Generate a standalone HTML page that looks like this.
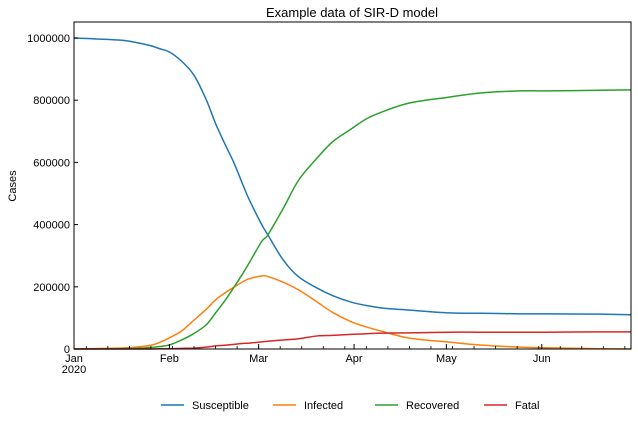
<!DOCTYPE html>
<html><head><meta charset="utf-8"><style>
body{margin:0;background:#fff;}
svg text{font-family:"Liberation Sans","DejaVu Sans",sans-serif;fill:#000;}
</style></head><body>
<svg id="chart" width="638" height="422">
<text x="352" y="17" font-size="13" text-anchor="middle">Example data of SIR-D model</text>
<text transform="translate(16,186) rotate(-90)" font-size="11" text-anchor="middle">Cases</text>
<g id="grid"></g><g id="series"></g>
<rect x="74" y="22" width="557" height="327" fill="none" stroke="#000" stroke-width="1"/>
<g id="axes"></g><g id="legend"></g>
</svg>
<script>
const days=[0,15,20,25,28,31,35,39,43,46,49,52,55,57,61,63,68,73,79,84,90,95,100,109,122,132,145,153,171,181];
const susceptible=[1000,993,986,975,965,955,925,880,801,725,660,598,525,479,400,367,286,232,196,172,151,140,132,125,116,115,113,113,112,110];
const infected=[0,3,6,12,22,36,58,93,128,158,180,199,217,226,235,233,215,190,151,118,88,71,57,35,22,13,6,4,1,0];
const recovered=[0,1,2,5,8,13,29,50,78,116,155,199,245,278,346,367,452,543,614,666,707,740,762,791,810,823,830,830,832,833];
const fatal=[0,0,0,0,1,1,2,3,6,10,12,15,18,19,23,25,29,33,42,44,47,49,51,52,54,54,54,54,55,55];
const yTicks=[0,200000,400000,600000,800000,1000000];
const monthLabels=["Jan","Feb","Mar","Apr","May","Jun"];
const monthDays=[0,31,60,91,121,152];
const seriesNames=["Susceptible","Infected","Recovered","Fatal"];
const colors=["#1f77b4","#ff7f0e","#2ca02c","#d62728"];
const NS="http://www.w3.org/2000/svg";
const X=d=>74+d*557/181;
const Y=v=>349-v*311/1000000;
function mk(t,a,p){const e=document.createElementNS(NS,t);for(const k in a)e.setAttribute(k,a[k]);p.appendChild(e);return e;}
const axes=document.getElementById('axes');
yTicks.forEach(v=>{
  const l=mk('line',{x1:74,x2:78,y1:Y(v),y2:Y(v),stroke:'#000'},axes);
  
  
  const t=mk('text',{x:70,y:Y(v)+4,'font-size':11,'text-anchor':'end'},axes);t.textContent=v;
  
  
});
for(let d=4;d<=181;d+=7){
  const l=mk('line',{x1:X(d),x2:X(d),y1:349,y2:346,stroke:'#000','stroke-width':0.8},axes);
  
  
}
monthDays.forEach((d,i)=>{
  const l=mk('line',{x1:X(d),x2:X(d),y1:349,y2:344,stroke:'#000'},axes);
  
  
  const t=mk('text',{x:X(d),y:362,'font-size':11,'text-anchor':'middle'},axes);t.textContent=monthLabels[i];
  
  
});
const yr=mk('text',{x:X(0),y:373,'font-size':11,'text-anchor':'middle'},axes);yr.textContent="2020";


function smooth(pts){
  let d='M'+pts[0][0]+','+pts[0][1];
  for(let i=0;i<pts.length-1;i++){
    const p0=pts[Math.max(0,i-1)],p1=pts[i],p2=pts[i+1],p3=pts[Math.min(pts.length-1,i+2)];
    const c1x=p1[0]+(p2[0]-p0[0])/6,c1y=p1[1]+(p2[1]-p0[1])/6;
    const c2x=p2[0]-(p3[0]-p1[0])/6,c2y=p2[1]-(p3[1]-p1[1])/6;
    d+=' C'+c1x+','+c1y+' '+c2x+','+c2y+' '+p2[0]+','+p2[1];
  }
  return d;
}
const sg=document.getElementById('series');
[susceptible,infected,recovered,fatal].forEach((arr,i)=>{
  const pts=arr.map((v,j)=>[X(days[j]),Y(v*1000)]);
  const p=mk('path',{d:smooth(pts),fill:'none',stroke:colors[i],'stroke-width':1.5,'stroke-linejoin':'round'},sg);
  
  
});
const lg=document.getElementById('legend');
const lx=[161,273,375,484];
seriesNames.forEach((n,i)=>{
  const l=mk('line',{x1:lx[i],x2:lx[i]+23,y1:405,y2:405,stroke:colors[i],'stroke-width':1.5},lg);
  
  
  const t=mk('text',{x:lx[i]+31,y:409,'font-size':11},lg);t.textContent=n;
  
  
});
</script>
</body></html>
